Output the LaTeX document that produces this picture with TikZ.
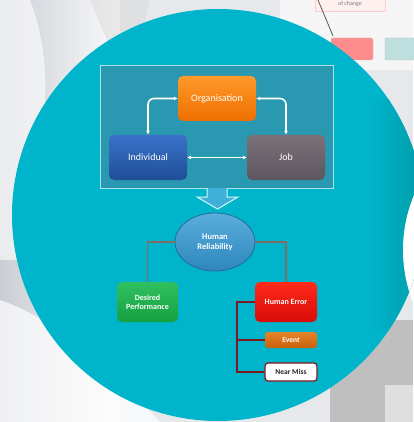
\documentclass[tikz,border=0pt]{standalone}
\usepackage{fontspec}
\setmainfont{Carlito}
\usetikzlibrary{shapes.geometric,arrows.meta,calc}
\definecolor{circ}{HTML}{00B5CB}
\definecolor{framefill}{HTML}{2A98B0}
\definecolor{frameedge}{HTML}{A8E4EC}
\definecolor{orgA}{HTML}{FF9A2A}
\definecolor{orgB}{HTML}{EE6E00}
\definecolor{indA}{HTML}{3A72C8}
\definecolor{indB}{HTML}{1F4E98}
\definecolor{jobA}{HTML}{7A7078}
\definecolor{jobB}{HTML}{5E5660}
\definecolor{hrA}{HTML}{5AAEDC}
\definecolor{hrB}{HTML}{2E86BC}
\definecolor{dpA}{HTML}{30C060}
\definecolor{dpB}{HTML}{15A040}
\definecolor{heA}{HTML}{FF2A1A}
\definecolor{heB}{HTML}{D80C08}
\definecolor{evA}{HTML}{E68428}
\definecolor{evB}{HTML}{C8600C}
\definecolor{errline}{HTML}{7A1A1E}
\definecolor{hrline}{HTML}{7E6E64}
\definecolor{bgA}{HTML}{E6E8EC}
\definecolor{bgB}{HTML}{C4C8CF}
\tikzset{
  box/.style={rectangle, rounded corners=5pt, minimum width=78pt, minimum height=45pt,
    text=white, font=\fontsize{10}{11}\selectfont, align=center, inner sep=1pt},
  smallbox/.style={rectangle, rounded corners=3pt, minimum width=52pt,
    font=\bfseries\fontsize{7.5}{8.5}\selectfont, align=center, inner sep=1pt},
  dbl/.style={draw=white, line width=1.6pt, {Latex[length=4pt,width=4pt]}-{Latex[length=4pt,width=4pt]}, rounded corners=6pt},
  hrl/.style={draw=hrline, line width=1.6pt},
  errl/.style={draw=errline, line width=2pt}
}
\begin{document}
\begin{tikzpicture}[x=1pt,y=-1pt]
\useasboundingbox (0,0) rectangle (413,422);
% background
\fill[bgA] (0,0) rectangle (413,422);
\shade[left color=bgB, right color=white, opacity=0.8] (0,0) rectangle (120,422);
\fill[white, opacity=0.7] (0,300) .. controls (60,320) and (120,380) .. (160,422) -- (0,422) -- cycle;
\fill[white, opacity=0.6] (30,0) .. controls (60,80) and (40,150) .. (20,260) -- (0,260) -- (0,0) -- cycle;
\fill[gray!30, opacity=0.5] (90,0) .. controls (110,50) and (120,70) .. (135,60) -- (150,0) -- cycle;
\fill[gray!50] (330,320) rectangle (413,422);
\fill[gray!25] (385,385) rectangle (413,422);
\fill[white!92!gray] (280,0) rectangle (413,70);
% faded flowchart top right
\node[draw=red!20, fill=red!6, minimum width=70pt, minimum height=14pt, inner sep=0pt,
  font=\fontsize{6}{7}\selectfont, text=gray] (chg) at (350,4) {of change};
\node[draw=gray!50, fill=red!45, minimum width=42pt, minimum height=22pt, rounded corners=2pt] (pk) at (352,49) {};
\node[draw=gray!50, fill=teal!25, minimum width=40pt, minimum height=22pt, rounded corners=2pt] (gr) at (405,49) {};
\draw[gray!70!black, line width=0.8pt] (318,0) -- (333,36);
% white shape right
\fill[white] (545,250) circle (142);
% main circle
\fill[circ] (218,215) circle (206);
\begin{scope}
\clip (218,215) circle (206);
\shade[left color=circ, right color=teal!80!circ, opacity=0.6] (370,100) rectangle (425,330);
\fill[white] (545,250) circle (142);
\end{scope}
% frame
\node[draw=frameedge, fill=framefill, line width=1pt, minimum width=233pt, minimum height=122pt, inner sep=0pt] (frame) at (216.5,127) {};
\node[box, top color=orgA, bottom color=orgB] (org) at (217,98.5) {Organisation};
\node[box, top color=indA, bottom color=indB] (ind) at (148,157.5) {Individual};
\node[box, top color=jobA, bottom color=jobB] (job) at (286,157.5) {Job};
\draw[dbl] (org.west) -| (ind.north);
\draw[dbl] (org.east) -| (job.north);
\draw[dbl, rounded corners=0pt] (ind.east) -- (job.west);
% block arrow
\fill[fill=hrA!70!circ, draw=white!85!circ, line width=1pt]
  (207,188) -- (207,197) -- (197,197) -- (217.5,209) -- (238,197) -- (227,197) -- (227,188);
% human reliability
\node[ellipse, draw=hrB!80!black, line width=0.8pt, top color=hrA, bottom color=hrB, minimum width=80pt, minimum height=58pt,
  text=white, font=\bfseries\fontsize{8.5}{10}\selectfont, align=center, inner sep=0pt] (hr) at (215,242) {Human\\Reliability};
\node[box, top color=dpA, bottom color=dpB, minimum width=61pt, minimum height=40pt, font=\bfseries\fontsize{8}{9.5}\selectfont] (dp) at (147.5,302) {Desired\\Performance};
\node[box, top color=heA, bottom color=heB, minimum width=62pt, minimum height=40pt, font=\bfseries\fontsize{8}{9.5}\selectfont] (he) at (286,302) {Human Error};
\node[smallbox, top color=evA, bottom color=evB, text=white, minimum height=16pt] (ev) at (291,340) {Event};
\node[smallbox, fill=white, draw=errline, line width=1.2pt, text=black!85, minimum height=18pt] (nm) at (291,372) {Near Miss};
\draw[hrl] (hr.west) -| (dp.north);
\draw[hrl] (hr.east) -| (he.north);
\coordinate (bt) at (237,302);
\coordinate (bm) at (237,340);
\coordinate (bb) at (237,372);
\draw[errl] (he.west) -- (bt) -- (bb) -- (nm.west);
\draw[errl] (bm) -- (ev.west);
\end{tikzpicture}
\end{document}
